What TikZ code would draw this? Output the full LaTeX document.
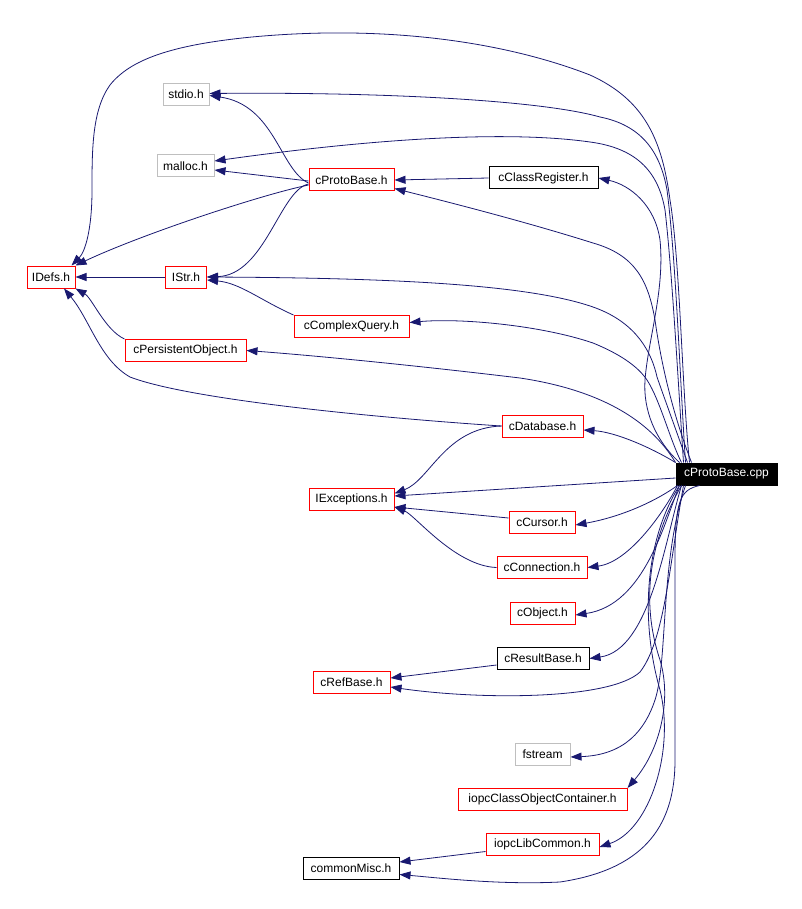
\documentclass[tikz,border=0pt]{standalone}
\usepackage{fontspec}
\setmainfont{Liberation Sans}
\usepackage{tikz}
\usetikzlibrary{arrows.meta,positioning}
\definecolor{dxedge}{HTML}{191970}
\definecolor{dxred}{HTML}{FF0000}
\definecolor{dxsys}{HTML}{BFBFBF}
\newcommand{\dxfont}{\fontsize{12}{14}\selectfont}
\tikzset{
  hdr/.style={draw=black,line width=1pt,fill=white,minimum height=22pt,inner sep=0pt,font=\dxfont,text=black},
  hdrred/.style={hdr,draw=dxred},
  hdrsys/.style={hdr,draw=dxsys},
  hdrroot/.style={hdr,fill=black,text=white},
  inc/.style={-{Triangle[length=11pt,width=8pt]},line width=0.8pt,draw=dxedge,fill=none},
}

\begin{document}
\begin{tikzpicture}[x=1pt,y=-1pt]
  \useasboundingbox (0,0) rectangle (801,909);

  % headers, left to right
  \node[hdrsys,minimum width=46pt] (stdio) at (186,94.5) {stdio.h};
  \node[hdrsys,minimum width=57pt] (malloc) at (185.5,166) {malloc.h};
  \node[hdrred,minimum width=48pt] (IDefs) at (51,277) {IDefs.h};
  \node[hdrred,minimum width=41pt] (IStr) at (186,277) {IStr.h};
  \node[hdrred,minimum width=121pt] (cPersistentObject) at (185.5,350.5) {cPersistentObject.h};
  \node[hdrred,minimum width=85pt] (cProtoBase) at (351.5,180) {cProtoBase.h};
  \node[hdrred,minimum width=115pt] (cComplexQuery) at (351.5,326.5) {cComplexQuery.h};
  \node[hdrred,minimum width=85pt] (IExceptions) at (351.5,499.5) {IExceptions.h};
  \node[hdrred,minimum width=77pt] (cRefBase) at (351.5,682) {cRefBase.h};
  \node[hdr,minimum width=96pt] (commonMisc) at (351,868.5) {commonMisc.h};
  \node[hdr,minimum width=109pt] (cClassRegister) at (543.5,178) {cClassRegister.h};
  \node[hdrred,minimum width=81pt] (cDatabase) at (542.5,426) {cDatabase.h};
  \node[hdrred,minimum width=66pt] (cCursor) at (542,522.5) {cCursor.h};
  \node[hdrred,minimum width=90pt] (cConnection) at (542,567.5) {cConnection.h};
  \node[hdrred,minimum width=65pt] (cObject) at (542.5,613) {cObject.h};
  \node[hdr,minimum width=92pt] (cResultBase) at (543,658.5) {cResultBase.h};
  \node[hdrsys,minimum width=55pt] (fstream) at (542.5,754) {fstream};
  \node[hdrred,minimum width=169pt] (iopcClassObjectContainer) at (542.5,799.5) {iopcClassObjectContainer.h};
  \node[hdrred,minimum width=113pt] (iopcLibCommon) at (542.5,844.5) {iopcLibCommon.h};
  \node[hdrroot,minimum width=101pt] (cpp) at (726.5,474) {cProtoBase.cpp};

  % includes of cProtoBase.cpp, upwards
  \draw[inc] ([xshift=14pt]cpp.north west) .. controls (682,390) and (680,260) .. (670,200)
    .. controls (662,140) and (645,100) .. (590,75) .. controls (500,40) and (380,25) .. (252,37)
    .. controls (170,45) and (130,60) .. (110,85) .. controls (92,110) and (92,150) .. (92,190)
    .. controls (92,230) and (85,252) .. ([xshift=-4pt]IDefs.north east);
  \draw[inc] ([xshift=10pt]cpp.north west) .. controls (680,380) and (676,260) .. (667,190)
    .. controls (660,150) and (640,125) .. (600,117) .. controls (540,100) and (380,92) .. ([yshift=1pt]stdio.east);
  \draw[inc] ([xshift=8pt]cpp.north west) .. controls (678,380) and (672,270) .. (665,210)
    .. controls (658,170) and (635,148) .. (590,142) .. controls (520,132) and (400,135) .. ([yshift=5pt]malloc.east);
  \draw[inc] ([xshift=16pt]cpp.north west) .. controls (675,420) and (662,370) .. (655,320)
    .. controls (648,280) and (635,255) .. (593,243) .. controls (520,220) and (440,200) .. ([yshift=3pt]cProtoBase.south east);
  \draw[inc] ([xshift=4pt]cpp.north west) .. controls (655,440) and (643,410) .. (645,380)
    .. controls (648,340) and (665,290) .. (660,240) .. controls (655,205) and (630,185) .. (cClassRegister.east);
  \draw[inc] ([xshift=12pt]cpp.north west) .. controls (676,430) and (665,400) .. (657,377)
    .. controls (650,345) and (630,320) .. (593,307) .. controls (530,285) and (400,278) .. (IStr.east);
  \draw[inc] ([xshift=6pt]cpp.north west) .. controls (670,440) and (660,400) .. (647,380)
    .. controls (635,362) and (610,350) .. (593,343) .. controls (540,325) and (460,318) .. ([yshift=4pt]cComplexQuery.east);
  \draw[inc] (cpp.north west) .. controls (650,420) and (600,390) .. (520,378)
    .. controls (420,366) and (320,356) .. (cPersistentObject.east);
  \draw[inc] (cpp.north west) .. controls (650,447) and (615,432) .. ([yshift=-4pt]cDatabase.east);
  \draw[inc] ([yshift=-4pt]cpp.west) -- ([yshift=3.5pt]IExceptions.east);

  % includes of cProtoBase.cpp, downwards
  \draw[inc] ([xshift=2pt]cpp.south west) .. controls (650,505) and (615,518) .. ([yshift=-2.5pt]cCursor.east);
  \draw[inc] ([xshift=2pt]cpp.south west) .. controls (665,510) and (630,562) .. (cConnection.east);
  \draw[inc] ([xshift=4pt]cpp.south west) .. controls (665,520) and (645,605) .. ([yshift=-2pt]cObject.east);
  \draw[inc] ([xshift=6pt]cpp.south west) .. controls (665,540) and (650,650) .. (cResultBase.east);
  \draw[inc] ([xshift=8pt]cpp.south west) .. controls (670,560) and (665,640) .. (640,672)
    .. controls (610,700) and (480,700) .. ([yshift=-5pt]cRefBase.east);
  \draw[inc] ([xshift=10pt]cpp.south west) .. controls (660,560) and (668,660) .. (655,700)
    .. controls (645,730) and (625,755) .. ([yshift=-3pt]fstream.east);
  \draw[inc] ([xshift=6pt]cpp.south west) .. controls (650,540) and (640,600) .. (660,660)
    .. controls (672,700) and (660,750) .. (iopcClassObjectContainer.north east);
  \draw[inc] ([xshift=4pt]cpp.south west) .. controls (645,540) and (640,620) .. (660,690)
    .. controls (675,750) and (650,830) .. ([yshift=-2.5pt]iopcLibCommon.east);
  \draw[inc] ([xshift=24pt]cpp.south west) .. controls (680,490) and (675,500) .. (675,560)
    -- (675,760) .. controls (675,830) and (640,870) .. (560,882)
    .. controls (500,885) and (440,878) .. ([yshift=-6pt]commonMisc.east);

  % includes of the other headers
  \draw[inc] ([yshift=-3pt]cProtoBase.west) .. controls (280,170) and (275,105) .. ([yshift=-1pt]stdio.east);
  \draw[inc] ([yshift=-1pt]cProtoBase.west) -- ([yshift=-4pt]malloc.east);
  \draw[inc] ([yshift=-5pt]cProtoBase.west) .. controls (260,195) and (140,235) .. (IDefs.north east);
  \draw[inc] ([yshift=-4pt]cProtoBase.west) .. controls (280,190) and (265,275) .. (IStr.east);
  \draw[inc] (cClassRegister.west) -- (cProtoBase.east);
  \draw[inc] (IStr.west) -- (IDefs.east);
  \draw[inc] (cComplexQuery.north west) .. controls (260,300) and (240,283) .. ([yshift=-3pt]IStr.east);
  \draw[inc] (cPersistentObject.north west) .. controls (105,330) and (92,298) .. (IDefs.south east);
  \draw[inc] (cDatabase.west) .. controls (380,418) and (190,400) .. (130,377)
    .. controls (100,360) and (90,320) .. ([xshift=13pt]IDefs.south);
  \draw[inc] (cDatabase.west) .. controls (445,428) and (430,480) .. ([yshift=6pt]IExceptions.east);
  \draw[inc] ([yshift=4.5pt]cCursor.west) -- ([yshift=-7.5pt]IExceptions.east);
  \draw[inc] (cConnection.west) .. controls (455,566) and (415,515) .. ([yshift=-7.5pt]IExceptions.east);
  \draw[inc] ([yshift=-6.5pt]cResultBase.west) -- ([yshift=4pt]cRefBase.east);
  \draw[inc] ([yshift=-7pt]iopcLibCommon.west) -- ([yshift=6.5pt]commonMisc.east);
\end{tikzpicture}
\end{document}
